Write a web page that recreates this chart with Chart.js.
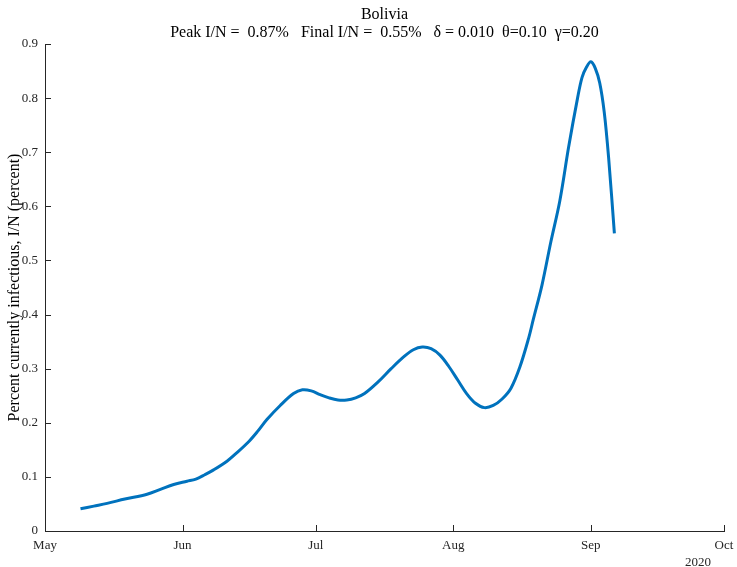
<!DOCTYPE html>
<html>
<head>
<meta charset="utf-8">
<script src="https://cdn.jsdelivr.net/npm/chart.js@4"></script>
<style>
  body { margin: 0; background: #fff; }
  #wrap { width: 737px; height: 567px; }
</style>
</head>
<body>
<div id="wrap"><canvas id="infChart" width="737" height="567"></canvas></div>
<script>
// days counted from May 1 2020
const days = [8, 11, 14, 18, 23, 26, 29, 32, 34, 36, 38, 41, 43, 46, 48, 50, 53, 56, 58, 60,
    62, 64, 66, 68, 70, 72, 75, 78, 81, 83, 85, 87, 89, 91, 93, 95, 97, 99, 101, 103,
    105, 107, 109, 110, 112, 114, 116, 118, 120, 121, 122, 123, 124, 125, 126, 127, 128.3];
const infPercent = [0.041, 0.046, 0.051, 0.059, 0.068, 0.077, 0.086, 0.092, 0.096, 0.104,
    0.113, 0.129, 0.143, 0.166, 0.185, 0.206, 0.232, 0.254, 0.261, 0.259,
    0.252, 0.246, 0.242, 0.242, 0.246, 0.254, 0.275, 0.300, 0.323, 0.335,
    0.340, 0.337, 0.325, 0.304, 0.279, 0.254, 0.236, 0.228, 0.232, 0.244,
    0.264, 0.303, 0.357, 0.390, 0.455, 0.535, 0.610, 0.710, 0.800, 0.838,
    0.857, 0.867, 0.855, 0.828, 0.775, 0.690, 0.550];
const monthDays = [0, 31, 61, 92, 123, 153];
const monthLabels = ["May", "Jun", "Jul", "Aug", "Sep", "Oct"];
const yTicks = [0, 0.1, 0.2, 0.3, 0.4, 0.5, 0.6, 0.7, 0.8, 0.9];
const yearLabel = "2020";

const axisColor = "#262626";
const serif = "'Liberation Serif', 'Times New Roman', serif";

// MATLAB-style inward ticks + year label under the last month
const innerTicks = {
    id: "innerTicks",
    afterDraw(chart) {
        const { ctx, chartArea, scales } = chart;
        ctx.save();
        ctx.strokeStyle = axisColor;
        ctx.lineWidth = 1;
        ctx.beginPath();
        monthDays.forEach(d => {
            const x = Math.round(scales.x.getPixelForValue(d)) + 0.5;
            ctx.moveTo(x, chartArea.bottom);
            ctx.lineTo(x, chartArea.bottom - 6);
        });
        yTicks.forEach(v => {
            const y = Math.round(scales.y.getPixelForValue(v)) + 0.5;
            ctx.moveTo(chartArea.left, y);
            ctx.lineTo(chartArea.left + 6, y);
        });
        ctx.stroke();

        ctx.fillStyle = axisColor;
        ctx.font = "13px " + serif;
        ctx.textAlign = "center";
        ctx.textBaseline = "middle";
        ctx.fillText(yearLabel, scales.x.getPixelForValue(153) - 26, chartArea.bottom + 32);
        ctx.restore();
    }
};

new Chart(document.getElementById("infChart"), {
    type: "line",
    data: {
        datasets: [{
            data: days.map((d, i) => ({ x: d, y: infPercent[i] })),
            borderColor: "#0072BD",
            borderWidth: 3,
            pointRadius: 0,
            tension: 0.35,
            fill: false
        }]
    },
    options: {
        responsive: false,
        animation: false,
        layout: { padding: { top: 0, right: 13, left: 0, bottom: 0 } },
        plugins: {
            legend: { display: false },
            tooltip: { enabled: false },
            title: {
                display: true,
                fullSize: false,
                text: ["Bolivia", "Peak I/N =  0.87%   Final I/N =  0.55%   \u03b4 = 0.010  \u03b8=0.10  \u03b3=0.20"],
                color: "#000",
                font: { family: serif, size: 16, weight: "normal", lineHeight: 1.125 },
                padding: { top: 6, bottom: 2 }
            }
        },
        scales: {
            x: {
                type: "linear",
                min: 0,
                max: 153,
                afterBuildTicks: axis => { axis.ticks = monthDays.map(v => ({ value: v })); },
                afterFit: axis => {
                    axis.height = 36;
                    axis.paddingRight = 0;
                    axis.paddingLeft = 0;
                },
                ticks: {
                    autoSkip: false,
                    maxRotation: 0,
                    color: axisColor,
                    padding: 7,
                    font: { family: serif, size: 13 },
                    callback: v => monthLabels[monthDays.indexOf(v)]
                },
                grid: { display: false, drawTicks: false },
                border: { display: true, color: axisColor, width: 1 }
            },
            y: {
                min: 0,
                max: 0.9,
                afterBuildTicks: axis => { axis.ticks = yTicks.map(v => ({ value: v })); },
                afterFit: axis => { axis.width = 45; },
                ticks: {
                    color: axisColor,
                    padding: 7,
                    font: { family: serif, size: 13 },
                    callback: v => String(Math.round(v * 10) / 10)
                },
                grid: { display: false, drawTicks: false },
                border: { display: true, color: axisColor, width: 1 },
                title: {
                    display: true,
                    text: "Percent currently infectious, I/N (percent)",
                    color: "#000",
                    font: { family: serif, size: 16 },
                    padding: { top: 5, bottom: 0 }
                }
            }
        }
    },
    plugins: [innerTicks]
});
</script>
</body>
</html>
